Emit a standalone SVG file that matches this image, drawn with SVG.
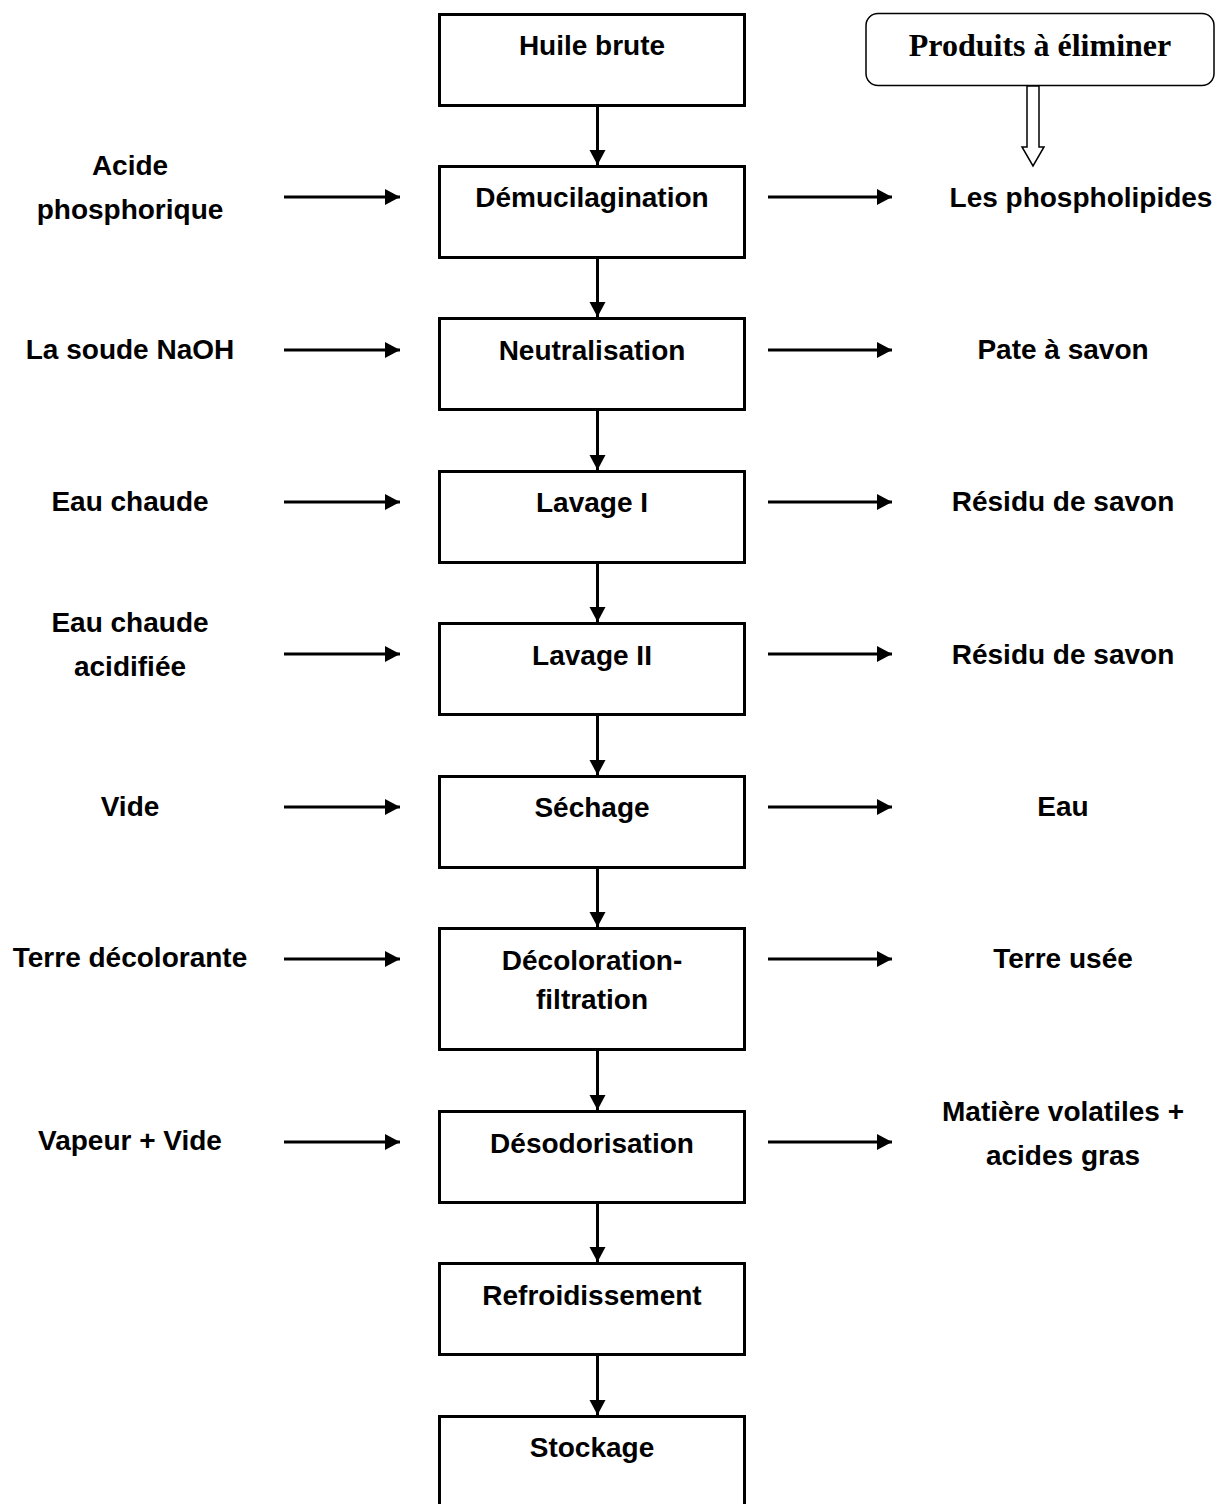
<svg xmlns="http://www.w3.org/2000/svg" width="1221" height="1504" viewBox="0 0 1221 1504">
<style>
.box{fill:#fff;stroke:#000;stroke-width:3}
.t{font-family:"Liberation Sans",Arial,sans-serif;font-weight:bold;font-size:28px;fill:#000;text-anchor:middle}
.c{stroke:#000;stroke-width:3;fill:none;marker-end:url(#ah)}
.h{font-family:"Liberation Serif","Times New Roman",serif;font-weight:bold;font-size:32px;fill:#000;text-anchor:middle}
</style>
<defs>
<marker id="ah" markerUnits="userSpaceOnUse" markerWidth="16" markerHeight="17" refX="15" refY="8" orient="auto" viewBox="0 0 16 17">
<path d="M0,0 L15,8 L0,16 z" fill="#000"/>
</marker>
</defs>
<rect width="1221" height="1504" fill="#fff"/>

<g id="legend">
<rect x="866" y="13.5" width="348" height="72" rx="12" ry="12" fill="#fff" stroke="#000" stroke-width="1.5"/>
<text class="h" x="1040" y="56">Produits à éliminer</text>
<polygon points="1027,86 1027,147 1022,147 1033,166 1044,147 1039,147 1039,86" fill="#fff" stroke="#000" stroke-width="1.5"/>
</g>

<g id="n1"><rect class="box" x="439.5" y="14.5" width="305" height="91"/><text class="t" x="592" y="55">Huile brute</text></g>
<g id="n2"><rect class="box" x="439.5" y="166.5" width="305" height="91"/><text class="t" x="592" y="207">Démucilagination</text></g>
<g id="n3"><rect class="box" x="439.5" y="318.5" width="305" height="91"/><text class="t" x="592" y="360">Neutralisation</text></g>
<g id="n4"><rect class="box" x="439.5" y="471.5" width="305" height="91"/><text class="t" x="592" y="512">Lavage I</text></g>
<g id="n5"><rect class="box" x="439.5" y="623.5" width="305" height="91"/><text class="t" x="592" y="665">Lavage II</text></g>
<g id="n6"><rect class="box" x="439.5" y="776.5" width="305" height="91"/><text class="t" x="592" y="817">Séchage</text></g>
<g id="n7"><rect class="box" x="439.5" y="928.5" width="305" height="121"/><text class="t" x="592" y="970">Décoloration-</text><text class="t" x="592" y="1009">filtration</text></g>
<g id="n8"><rect class="box" x="439.5" y="1111.5" width="305" height="91"/><text class="t" x="592" y="1153">Désodorisation</text></g>
<g id="n9"><rect class="box" x="439.5" y="1263.5" width="305" height="91"/><text class="t" x="592" y="1305">Refroidissement</text></g>
<g id="n10"><rect class="box" x="439.5" y="1416.5" width="305" height="100"/><text class="t" x="592" y="1457">Stockage</text></g>

<g id="inputs">
<text class="t" x="130" y="175">Acide</text><text class="t" x="130" y="219">phosphorique</text>
<text class="t" x="130" y="359">La soude NaOH</text>
<text class="t" x="130" y="511">Eau chaude</text>
<text class="t" x="130" y="632">Eau chaude</text><text class="t" x="130" y="676">acidifiée</text>
<text class="t" x="130" y="816">Vide</text>
<text class="t" x="130" y="967">Terre décolorante</text>
<text class="t" x="130" y="1150">Vapeur + Vide</text>
</g>

<g id="outputs">
<text class="t" x="1081" y="207">Les phospholipides</text>
<text class="t" x="1063" y="359">Pate à savon</text>
<text class="t" x="1063" y="511">Résidu de savon</text>
<text class="t" x="1063" y="664">Résidu de savon</text>
<text class="t" x="1063" y="816">Eau</text>
<text class="t" x="1063" y="968">Terre usée</text>
<text class="t" x="1063" y="1121">Matière volatiles +</text><text class="t" x="1063" y="1165">acides gras</text>
</g>

<g id="connectors">
<line class="c" x1="597.5" y1="107" x2="597.5" y2="165"/>
<line class="c" x1="597.5" y1="259" x2="597.5" y2="317"/>
<line class="c" x1="597.5" y1="411" x2="597.5" y2="470"/>
<line class="c" x1="597.5" y1="564" x2="597.5" y2="622"/>
<line class="c" x1="597.5" y1="716" x2="597.5" y2="775"/>
<line class="c" x1="597.5" y1="869" x2="597.5" y2="927"/>
<line class="c" x1="597.5" y1="1051" x2="597.5" y2="1110"/>
<line class="c" x1="597.5" y1="1204" x2="597.5" y2="1262"/>
<line class="c" x1="597.5" y1="1356" x2="597.5" y2="1415"/>

<line class="c" x1="284" y1="197" x2="400" y2="197"/>
<line class="c" x1="284" y1="350" x2="400" y2="350"/>
<line class="c" x1="284" y1="502" x2="400" y2="502"/>
<line class="c" x1="284" y1="654" x2="400" y2="654"/>
<line class="c" x1="284" y1="807" x2="400" y2="807"/>
<line class="c" x1="284" y1="959" x2="400" y2="959"/>
<line class="c" x1="284" y1="1142" x2="400" y2="1142"/>

<line class="c" x1="768" y1="197" x2="892" y2="197"/>
<line class="c" x1="768" y1="350" x2="892" y2="350"/>
<line class="c" x1="768" y1="502" x2="892" y2="502"/>
<line class="c" x1="768" y1="654" x2="892" y2="654"/>
<line class="c" x1="768" y1="807" x2="892" y2="807"/>
<line class="c" x1="768" y1="959" x2="892" y2="959"/>
<line class="c" x1="768" y1="1142" x2="892" y2="1142"/>
</g>
</svg>
